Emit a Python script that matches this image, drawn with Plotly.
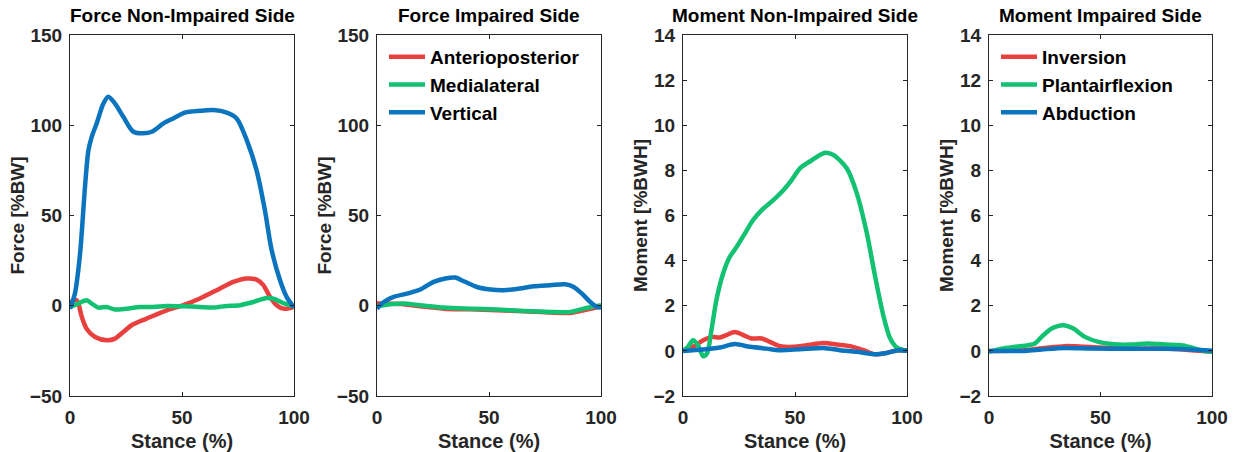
import plotly.graph_objects as go

# Stance phase (%) sample points and ground reaction data per panel
# Panel 1: Force, non-impaired side
f1_ap_x = [0, 3, 5.2, 7.4, 11.2, 16.4, 20.1, 23.8, 27.5, 34.2, 43.2, 50.6, 58, 65.5, 72.9, 78.9, 83.3, 86.3, 89.3, 92.3, 95.2, 99, 100]
f1_ap_y = [2, 3, -6, -12.7, -17.3, -19.1, -18.2, -14.5, -10.8, -7.1, -2.5, 0.3, 4, 8.6, 13.2, 15.1, 14.5, 11.4, 4.9, 0.3, -1.6, -1, 0]
f1_ml_x = [0, 3.7, 7.4, 9.7, 12.6, 16.4, 20.1, 25.3, 31.3, 37.2, 43.2, 50.6, 58, 64, 70, 75.9, 81.8, 87.8, 90.8, 95.2, 100]
f1_ml_y = [-0.7, 1.2, 3, 1.2, -1, -0.7, -2.1, -1.6, -0.7, -0.7, -0.1, -0.3, -0.7, -1, -0.1, 0.3, 2.1, 4.3, 3.9, 1.5, -0.3]
f1_v_x = [0, 2.2, 4.5, 6.7, 8.2, 9.7, 11.9, 14.9, 17.1, 20.1, 23.8, 28.3, 32.7, 36.5, 41.7, 46.1, 51.3, 58, 64, 70, 74.4, 78.9, 83.3, 87, 90, 93.8, 96.7, 100]
f1_v_y = [-1.6, 6.8, 29, 66, 86, 93.6, 101, 112, 115.8, 112, 104.7, 96.4, 95.5, 96.4, 101, 103.8, 107, 108, 108.4, 107, 103.8, 91.8, 75, 53, 31, 14, 4.9, -1]

# Panel 2: Force, impaired side
f2_ap_x = [0, 4.5, 11.9, 19.3, 29.8, 41.7, 53.6, 65.5, 77.4, 86.3, 92.3, 100]
f2_ap_y = [1.2, 1.2, 0.8, -0.3, -1.6, -2, -2.5, -3, -3.8, -4, -2.5, -0.4]
f2_ml_x = [0, 6, 11.9, 19.3, 29.8, 41.7, 53.6, 65.5, 77.4, 86.3, 92.3, 100]
f2_ml_y = [-0.3, 0.8, 1.2, 0.3, -1, -1.6, -2.1, -2.9, -3.4, -3.4, -1.6, 0.3]
f2_v_x = [0, 3, 7.4, 13.4, 19.3, 25.3, 30.5, 35, 38.7, 44.6, 50.6, 56.5, 62.5, 69.9, 77.4, 84, 87.8, 91.5, 95.2, 98.2, 100]
f2_v_y = [-1.6, 2.1, 4.9, 6.7, 9, 13.2, 15.1, 15.6, 13.6, 10.4, 9, 8.6, 9.3, 10.8, 11.4, 11.9, 10.4, 6.7, 2.1, -0.6, -1]

# Panel 3: Moment, non-impaired side
m1_inv_x = [0, 4.5, 9, 12.7, 16.4, 19.4, 23.1, 26.9, 30.6, 35.1, 38.8, 43.3, 49.3, 55.2, 62.7, 68.7, 74.6, 80.6, 85.8, 91, 95.5, 100]
m1_inv_y = [0, 0.18, 0.47, 0.62, 0.59, 0.7, 0.84, 0.7, 0.55, 0.55, 0.4, 0.21, 0.18, 0.25, 0.35, 0.28, 0.21, 0.03, -0.15, -0.09, 0.03, 0]
m1_pf_x = [0, 2.2, 4.5, 6.7, 9, 10.7, 12.7, 14.9, 17.9, 20.9, 23.9, 27.6, 31.3, 35.8, 40.3, 44.8, 48.5, 52.2, 57.5, 63.4, 67.2, 73.1, 77.6, 82.1, 85.8, 89.6, 92.5, 95.5, 100]
m1_pf_y = [0, 0.18, 0.47, 0.25, -0.24, -0.12, 0.92, 2.25, 3.43, 4.17, 4.6, 5.2, 5.8, 6.3, 6.68, 7.12, 7.57, 8.09, 8.45, 8.78, 8.68, 8.09, 6.98, 5.2, 3.28, 1.5, 0.55, 0.15, 0]
m1_ab_x = [0, 9, 16.4, 23.1, 29.9, 37.3, 43.3, 52.2, 62.7, 70.1, 77.6, 85, 91, 96.3, 100]
m1_ab_y = [0, 0.06, 0.15, 0.3, 0.18, 0.1, 0.03, 0.07, 0.13, 0.03, -0.04, -0.15, -0.09, 0.03, 0]

# Panel 4: Moment, impaired side
m2_inv_x = [0, 16.1, 25.1, 34, 43, 54.9, 66.9, 78.8, 90.7, 100]
m2_inv_y = [0, 0.03, 0.13, 0.21, 0.18, 0.13, 0.1, 0.1, 0.03, -0.04]
m2_pf_x = [0, 5.7, 11.6, 17.6, 20.6, 23.6, 28.1, 33.3, 37.8, 43, 49, 54.9, 63.9, 71.3, 78.8, 86.3, 90.7, 95.2, 100]
m2_pf_y = [-0.04, 0.1, 0.18, 0.25, 0.33, 0.62, 0.99, 1.14, 0.99, 0.62, 0.4, 0.3, 0.28, 0.33, 0.28, 0.25, 0.15, 0.03, -0.04]
m2_ab_x = [0, 16.1, 23.6, 34, 46, 60.9, 78.8, 90.7, 100]
m2_ab_y = [0, 0, 0.06, 0.13, 0.1, 0.09, 0.09, 0.06, 0]

titles = ["Force Non-Impaired Side", "Force Impaired Side",
          "Moment Non-Impaired Side", "Moment Impaired Side"]
y_labels = ["Force [%BW]", "Force [%BW]", "Moment [%BWH]", "Moment [%BWH]"]
x_label = "Stance (%)"
force_names = ["Anterioposterior", "Medialateral", "Vertical"]
moment_names = ["Inversion", "Plantairflexion", "Abduction"]

RED, GREEN, BLUE = "#E8403F", "#12C172", "#0B74BE"
AXC = "#262626"
FONT = "Liberation Sans, Arial, sans-serif"
W, H = 1237, 452

# pixel extents of each axes box
boxes_px = [(70, 294), (377, 601), (683, 907), (989, 1212)]
top_px, bot_px = 35, 396

fig = go.Figure()

panels = [
    ([(f1_ap_x, f1_ap_y), (f1_ml_x, f1_ml_y), (f1_v_x, f1_v_y)], force_names, None),
    ([(f2_ap_x, f2_ap_y), (f2_ml_x, f2_ml_y), (f2_v_x, f2_v_y)], force_names, "legend"),
    ([(m1_inv_x, m1_inv_y), (m1_pf_x, m1_pf_y), (m1_ab_x, m1_ab_y)], moment_names, None),
    ([(m2_inv_x, m2_inv_y), (m2_pf_x, m2_pf_y), (m2_ab_x, m2_ab_y)], moment_names, "legend2"),
]

for i, (series, names, leg) in enumerate(panels):
    ax = "" if i == 0 else str(i + 1)
    for (xs, ys), name, col in zip(series, names, [RED, GREEN, BLUE]):
        fig.add_trace(go.Scatter(
            x=xs, y=ys, mode="lines", name=name,
            line=dict(color=col, width=4.5, shape="spline", smoothing=0.8),
            xaxis="x" + ax, yaxis="y" + ax,
            showlegend=leg is not None,
            legend=leg if leg else "legend",
        ))

layout = dict(
    width=W, height=H,
    margin=dict(l=0, r=0, t=0, b=0),
    paper_bgcolor="white", plot_bgcolor="white",
    font=dict(family=FONT, size=18, color=AXC),
)

ydom = [1 - bot_px / H, 1 - top_px / H]
for i, (x0, x1) in enumerate(boxes_px):
    ax = "" if i == 0 else str(i + 1)
    force = i < 2
    common = dict(showline=True, linecolor=AXC, linewidth=1.2, mirror="ticks",
                  ticks="inside", ticklen=4, tickcolor=AXC, showgrid=False,
                  zeroline=False, automargin=False,
                  tickfont=dict(family=FONT, size=19, color=AXC, weight="bold"))
    layout["xaxis" + ax] = dict(
        domain=[x0 / W, x1 / W], range=[0, 100], tickvals=[0, 50, 100],
        anchor="y" + ax, ticklabelstandoff=4,
        title=dict(text=x_label, standoff=10,
                   font=dict(family=FONT, size=20, color=AXC, weight="bold")),
        **common)
    layout["yaxis" + ax] = dict(
        domain=ydom,
        range=[-50, 150] if force else [-2, 14],
        dtick=50 if force else 2,
        anchor="x" + ax, ticklabelstandoff=3,
        title=dict(text=y_labels[i], standoff=0,
                   font=dict(family=FONT, size=19, color=AXC, weight="bold")),
        **common)

annotations = []
for i, (x0, x1) in enumerate(boxes_px):
    annotations.append(dict(
        text=titles[i], x=(x0 + x1) / 2 / W, y=1 - 28 / H,
        xref="paper", yref="paper", xanchor="center", yanchor="bottom",
        showarrow=False,
        font=dict(family=FONT, size=19, color="black", weight="bold")))
layout["annotations"] = annotations

leg_common = dict(bgcolor="rgba(0,0,0,0)", borderwidth=0, xanchor="left", yanchor="top",
                  font=dict(family=FONT, size=19, color="black", weight="bold"),
                  tracegroupgap=0, itemwidth=36)
layout["legend"] = dict(x=384 / W, y=1 - 38 / H, **leg_common)
layout["legend2"] = dict(x=996 / W, y=1 - 38 / H, **leg_common)

fig.update_layout(**layout)
fig.write_html("out.html")
